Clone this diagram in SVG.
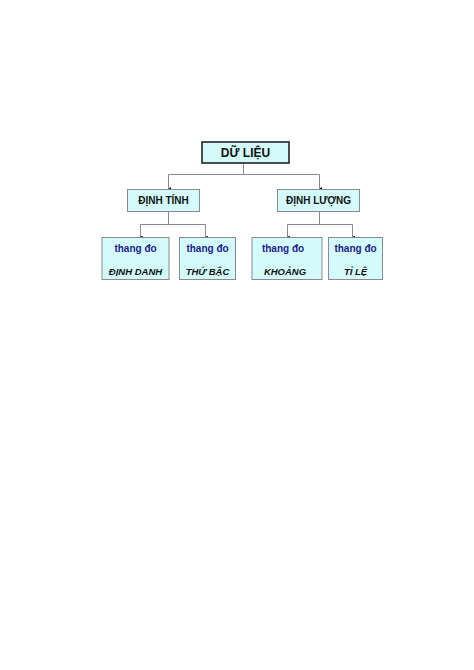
<svg xmlns="http://www.w3.org/2000/svg" width="474" height="670" viewBox="0 0 474 670">
<defs>
<style>
.bx{fill:#d4fbfb;stroke:#8a8a8a;stroke-width:1}
.top{fill:#d4fbfb;stroke:#222;stroke-width:1.6}
.t{font-family:"Liberation Sans",Arial,sans-serif;font-weight:bold;text-anchor:middle;fill:#111}
.b{fill:#1c1c8a;font-size:10px}
.i{font-style:italic;font-size:9.5px}
.c{fill:none;stroke:#8a8a8a;stroke-width:1}
</style>
<marker id="ah" viewBox="0 0 4 4" refX="2" refY="3.5" markerWidth="3" markerHeight="3" orient="auto-start-reverse" markerUnits="userSpaceOnUse">
<path d="M0,0 L4,0 L2,4 Z" fill="#222"/>
</marker>
</defs>
<rect width="474" height="670" fill="#fff"/>
<g id="connectors">
<path class="c" d="M243.5,163.5 V174.5 H168.5 V188.5" marker-end="url(#ah)"/>
<path class="c" d="M243.5,174.5 H319.5 V188.5" marker-end="url(#ah)"/>
<path class="c" d="M168.5,212 V224.5 H140.5 V237" marker-end="url(#ah)"/>
<path class="c" d="M168.5,224.5 H205.5 V237" marker-end="url(#ah)"/>
<path class="c" d="M319.5,212 V224.5 H287.5 V237" marker-end="url(#ah)"/>
<path class="c" d="M319.5,224.5 H352.5 V237" marker-end="url(#ah)"/>
</g>
<g id="du-lieu">
<rect class="top" x="202" y="142" width="87" height="21"/>
<text class="t" x="245.5" y="157" font-size="12">DỮ LIỆU</text>
</g>
<g id="dinh-tinh">
<rect class="bx" x="127.5" y="189.5" width="72" height="22"/>
<text class="t" x="163.5" y="204" font-size="10">ĐỊNH TÍNH</text>
</g>
<g id="dinh-luong">
<rect class="bx" x="277.5" y="189.5" width="82" height="22"/>
<text class="t" x="318.5" y="204" font-size="10">ĐỊNH LƯỢNG</text>
</g>
<g id="dinh-danh">
<rect class="bx" x="102" y="237.5" width="67" height="42"/>
<text class="t b" x="135.5" y="252">thang đo</text>
<text class="t i" x="135.5" y="275">ĐỊNH DANH</text>
</g>
<g id="thu-bac">
<rect class="bx" x="179.5" y="237.5" width="56" height="42"/>
<text class="t b" x="207.5" y="252">thang đo</text>
<text class="t i" x="207.5" y="275">THỨ BẬC</text>
</g>
<g id="khoang">
<rect class="bx" x="252" y="237.5" width="70" height="42"/>
<text class="t b" x="283" y="252">thang đo</text>
<text class="t i" x="285" y="275">KHOẢNG</text>
</g>
<g id="ti-le">
<rect class="bx" x="328.5" y="237.5" width="54" height="42"/>
<text class="t b" x="355.5" y="252">thang đo</text>
<text class="t i" x="355.5" y="275">TỈ LỆ</text>
</g>
</svg>
